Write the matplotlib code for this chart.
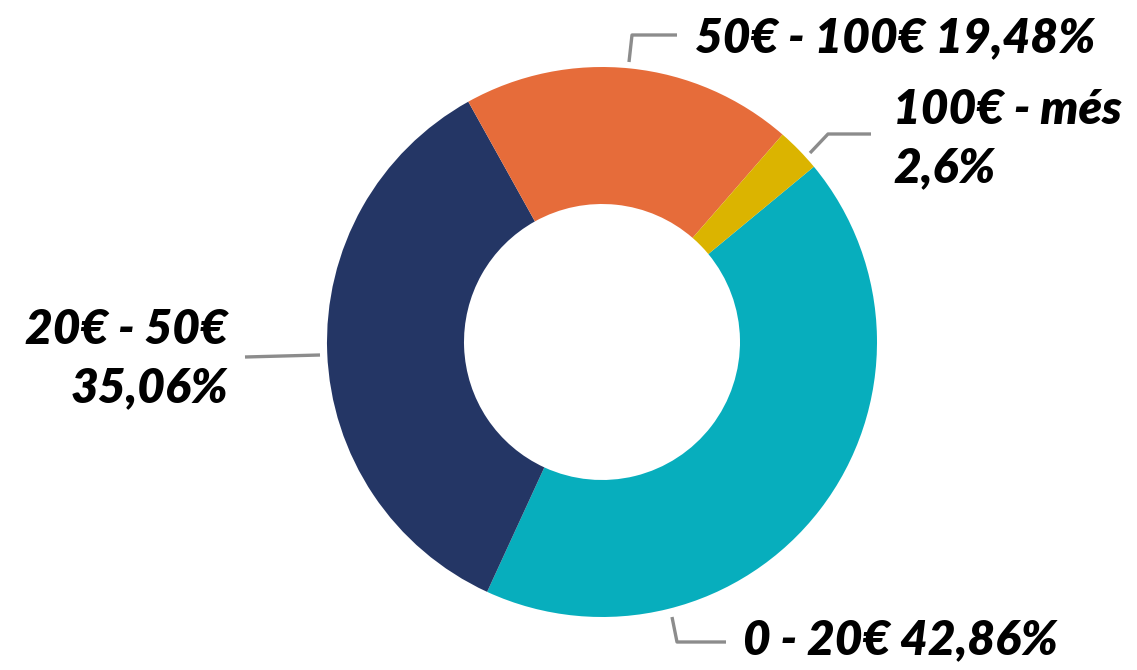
import matplotlib.pyplot as plt

# donut slices, clockwise from the 0-20€ slice
categories = ["0 - 20€", "20€ - 50€", "50€ - 100€", "100€ - més"]
shares = [42.86, 35.06, 19.48, 2.6]
share_labels = ["42,86%", "35,06%", "19,48%", "2,6%"]
colors = ["#07AEBD", "#243665", "#E66C3A", "#DBB400"]

W, H = 1137, 670
fig = plt.figure(figsize=(W / 100, H / 100), dpi=100)
ax = fig.add_axes([0, 0, 1, 1])

cx, cy, r = 602, H - 342, 275
ax.pie(shares, colors=colors, startangle=39.6, counterclock=False,
       center=(cx, cy), radius=r, frame=True,
       wedgeprops=dict(width=r - 138, linewidth=0))
ax.set_xlim(0, W)
ax.set_ylim(0, H)
ax.set_aspect("equal")
ax.axis("off")

font = dict(family=["Lato", "DejaVu Sans"], fontsize=34.5,
            fontweight="heavy", fontstyle="italic", color="black")
gray = "#8C8C8C"


def leader(pts):
    xs = [p[0] for p in pts]
    ys = [H - p[1] for p in pts]
    ax.plot(xs, ys, color=gray, lw=2.4, solid_capstyle="butt")


# 0 - 20€
leader([(672, 617), (677, 642), (726, 642)])
ax.text(743, H - 640, f"{categories[0]} {share_labels[0]}", ha="left", va="center", **font)

# 20€ - 50€
leader([(320, 355), (245, 357)])
ax.text(228, H - 359, f"{categories[1]}\n{share_labels[1]}", ha="right", va="center",
        linespacing=1.4, **font)

# 50€ - 100€
leader([(629, 62), (632, 35), (677, 35)])
ax.text(695, H - 38, f"{categories[2]} {share_labels[2]}", ha="left", va="center", **font)

# 100€ - més
leader([(810, 153), (828, 134), (871, 134)])
ax.text(893, H - 139, f"{categories[3]}\n{share_labels[3]}", ha="left", va="center",
        linespacing=1.4, **font)

fig.savefig("out.png", dpi=100)
